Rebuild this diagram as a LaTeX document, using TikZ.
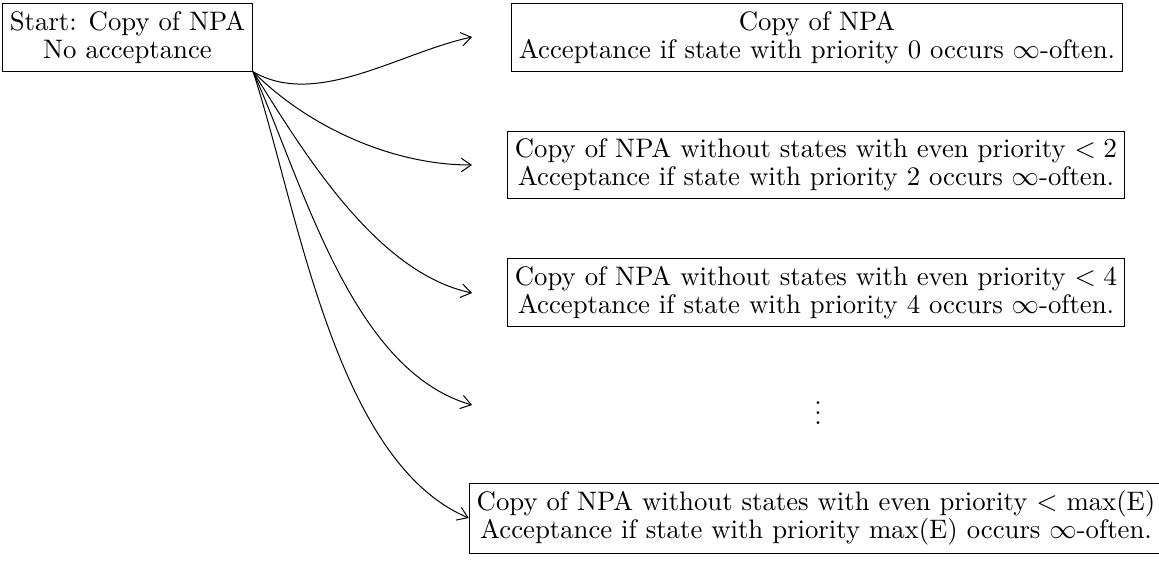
\documentclass[tikz,border=0pt]{standalone}
\usetikzlibrary{arrows.meta}
\begin{document}
\begin{tikzpicture}[x=0.4pt,y=-0.4pt,
  box/.style={draw, thin, align=center, inner sep=3pt, font=\fontsize{10.7}{11.3}\selectfont},
  conn/.style={thin, -{Straight Barb[length=4pt,width=5.5pt]}}]
\useasboundingbox (0,0) rectangle (1159,560);
\node[box] (start) at (127.5,37.5) {Start: Copy of NPA\\No acceptance};
\node[box] (b0) at (817,37.5) {Copy of NPA\\Acceptance if state with priority 0 occurs $\infty$-often.};
\node[box] (b2) at (816,165) {Copy of NPA without states with even priority $<2$\\Acceptance if state with priority 2 occurs $\infty$-often.};
\node[box] (b4) at (816,292.5) {Copy of NPA without states with even priority $<4$\\Acceptance if state with priority 4 occurs $\infty$-often.};
\node[font=\fontsize{10.7}{11.3}\selectfont] (dots) at (818,406) {$\vdots$};
\node[box] (bm) at (816,518) {Copy of NPA without states with even priority $<$ max(E)\\Acceptance if state with priority max(E) occurs $\infty$-often.};
\coordinate (e0) at (472,37);
\coordinate (e2) at (472,165);
\coordinate (e4) at (472,293);
\coordinate (e6) at (472,405);
\draw[conn] (start.south east) to[out=-30,in=192,looseness=0.85] (e0);
\draw[conn] (start.south east) to[out=-45,in=180,looseness=0.85] (e2);
\draw[conn] (start.south east) to[out=-58,in=168,looseness=0.8] (e4);
\draw[conn] (start.south east) to[out=-66,in=164,looseness=0.8] (e6);
\draw[conn] (start.south east) to[out=-72,in=157,looseness=0.75] (bm.west);
\end{tikzpicture}
\end{document}
